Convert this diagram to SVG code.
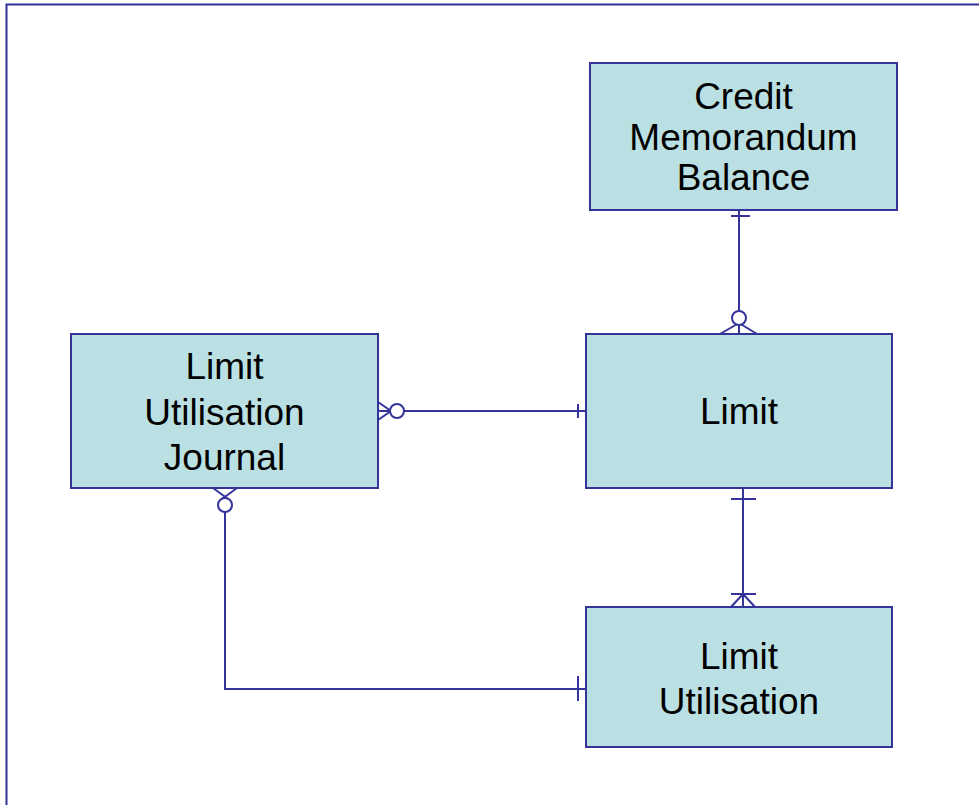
<svg xmlns="http://www.w3.org/2000/svg" width="979" height="805" viewBox="0 0 979 805">
<style>
.box{fill:#bbe0e3;stroke:#333399;stroke-width:2}
.t{font-family:"Liberation Sans",Arial,sans-serif;font-size:37px;fill:#000;text-anchor:middle}
.c{fill:none;stroke:#333399;stroke-width:2}
.o{fill:#fff;stroke:#333399;stroke-width:2}
</style>
<rect x="6.5" y="4.5" width="990" height="820" fill="#fff" stroke="#333399" stroke-width="2"/>
<g id="connectors">
  <!-- CMB to Limit -->
  <line class="c" x1="739" y1="210" x2="739" y2="334"/>
  <line class="c" x1="731" y1="216" x2="750" y2="216"/>
  <line class="c" x1="739" y1="323" x2="720" y2="334"/>
  <line class="c" x1="739" y1="323" x2="757" y2="334"/>
  <circle class="o" cx="739" cy="318" r="7"/>
  <!-- LUJ to Limit -->
  <line class="c" x1="378" y1="411" x2="586" y2="411"/>
  <line class="c" x1="378" y1="402" x2="391" y2="411"/>
  <line class="c" x1="378" y1="420" x2="391" y2="411"/>
  <circle class="o" cx="397" cy="411" r="7"/>
  <line class="c" x1="578" y1="404" x2="578" y2="418"/>
  <!-- Limit to LU -->
  <line class="c" x1="743" y1="488" x2="743" y2="607"/>
  <line class="c" x1="731" y1="499" x2="756" y2="499"/>
  <line class="c" x1="731" y1="594" x2="756" y2="594"/>
  <line class="c" x1="743" y1="594" x2="731" y2="607"/>
  <line class="c" x1="743" y1="594" x2="755" y2="607"/>
  <!-- LUJ to LU -->
  <polyline class="c" points="225,505 225,689 586,689"/>
  <line class="c" x1="213" y1="488" x2="228" y2="499"/>
  <line class="c" x1="237" y1="488" x2="222" y2="499"/>
  <circle class="o" cx="225" cy="505" r="7"/>
  <line class="c" x1="578" y1="676" x2="578" y2="701"/>
</g>
<g id="credit-memorandum-balance">
  <rect class="box" x="590" y="63" width="307" height="147"/>
  <text class="t" x="743.5" y="109">Credit</text>
  <text class="t" x="743.5" y="149.5">Memorandum</text>
  <text class="t" x="743.5" y="190">Balance</text>
</g>
<g id="limit-utilisation-journal">
  <rect class="box" x="71" y="334" width="307" height="154"/>
  <text class="t" x="224.5" y="379">Limit</text>
  <text class="t" x="224.5" y="424.5">Utilisation</text>
  <text class="t" x="224.5" y="470">Journal</text>
</g>
<g id="limit">
  <rect class="box" x="586" y="334" width="306" height="154"/>
  <text class="t" x="739" y="424">Limit</text>
</g>
<g id="limit-utilisation">
  <rect class="box" x="586" y="607" width="306" height="140"/>
  <text class="t" x="739" y="669">Limit</text>
  <text class="t" x="739" y="714">Utilisation</text>
</g>
</svg>
